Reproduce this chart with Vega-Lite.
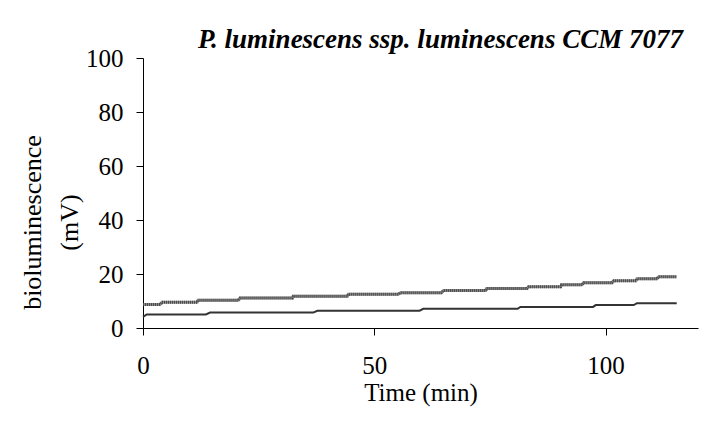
{
  "$schema": "https://vega.github.io/schema/vega-lite/v6.json",
  "width": 555,
  "height": 270,
  "autosize": {"type": "none"},
  "padding": {"left": 143, "top": 58, "right": 28, "bottom": 93},
  "background": "white",
  "config": {
    "view": {"stroke": null},
    "font": "Liberation Serif",
    "axis": {
      "grid": false,
      "domainColor": "black",
      "domainWidth": 1,
      "tickColor": "black",
      "tickSize": 7,
      "labelColor": "black",
      "titleColor": "black",
      "labelFont": "Liberation Serif",
      "titleFont": "Liberation Serif",
      "labelFontSize": 25,
      "titleFontSize": 25,
      "titleFontWeight": "normal"
    }
  },
  "title": {
    "text": "P. luminescens ssp. luminescens CCM 7077",
    "font": "Liberation Serif",
    "fontSize": 27,
    "fontWeight": "bold",
    "fontStyle": "italic",
    "color": "black",
    "anchor": "middle",
    "dx": 20,
    "dy": 10,
    "offset": 2
  },
  "datasets": {
    "upper": [
      {"t": 0, "v": 8.7}, {"t": 3.7, "v": 8.7},
      {"t": 4.1, "v": 9.5}, {"t": 11.7, "v": 9.5},
      {"t": 11.9, "v": 10.3}, {"t": 20.6, "v": 10.3},
      {"t": 21.0, "v": 11.1}, {"t": 32.3, "v": 11.1},
      {"t": 32.5, "v": 11.8}, {"t": 44.2, "v": 11.8},
      {"t": 44.4, "v": 12.5}, {"t": 55.2, "v": 12.5},
      {"t": 55.7, "v": 13.1}, {"t": 64.5, "v": 13.1},
      {"t": 65.0, "v": 13.9}, {"t": 74.1, "v": 13.9},
      {"t": 74.3, "v": 14.6}, {"t": 83.0, "v": 14.6},
      {"t": 83.4, "v": 15.3}, {"t": 90.3, "v": 15.3},
      {"t": 90.5, "v": 16.0}, {"t": 94.9, "v": 16.0},
      {"t": 95.3, "v": 16.8}, {"t": 101.4, "v": 16.8},
      {"t": 101.8, "v": 17.5}, {"t": 106.6, "v": 17.5},
      {"t": 106.8, "v": 18.2}, {"t": 111.1, "v": 18.2},
      {"t": 111.5, "v": 19.0}, {"t": 115.4, "v": 19.0}
    ],
    "lower": [
      {"t": 0, "v": 4.1}, {"t": 0.8, "v": 5.0},
      {"t": 13.6, "v": 5.0}, {"t": 14.5, "v": 5.7},
      {"t": 36.8, "v": 5.7}, {"t": 37.7, "v": 6.4},
      {"t": 59.8, "v": 6.4}, {"t": 60.6, "v": 7.1},
      {"t": 81.0, "v": 7.1}, {"t": 81.6, "v": 7.8},
      {"t": 97.3, "v": 7.8}, {"t": 97.9, "v": 8.5},
      {"t": 106.1, "v": 8.5}, {"t": 106.8, "v": 9.2},
      {"t": 115.4, "v": 9.2}
    ]
  },
  "encoding": {
    "x": {
      "field": "t",
      "type": "quantitative",
      "scale": {"domain": [0, 120], "nice": false},
      "axis": {
        "title": "Time (min)",
        "values": [0, 50, 100],
        "labelFont": "Liberation Serif",
        "titleFont": "Liberation Serif",
        "labelPadding": 18,
        "titlePadding": 2,
        "labelFlush": false
      }
    },
    "y": {
      "field": "v",
      "type": "quantitative",
      "scale": {"domain": [0, 100], "nice": false},
      "axis": {
        "title": ["bioluminescence", "(mV)"],
        "values": [0, 20, 40, 60, 80, 100],
        "labelFont": "Liberation Serif",
        "titleFont": "Liberation Serif",
        "titleFontSize": 26,
        "labelPadding": 13,
        "titlePadding": 3,
        "titleLineHeight": 37,
        "titleY": 164,
        "labelFlush": false
      }
    }
  },
  "layer": [
    {
      "data": {"name": "upper"},
      "mark": {"type": "line", "color": "#8c8c8c", "strokeWidth": 3}
    },
    {
      "data": {"name": "upper"},
      "mark": {"type": "line", "color": "#4a4a4a", "strokeWidth": 3, "strokeDash": [1, 1]}
    },
    {
      "data": {"name": "lower"},
      "mark": {"type": "line", "color": "#333333", "strokeWidth": 2}
    }
  ]
}
